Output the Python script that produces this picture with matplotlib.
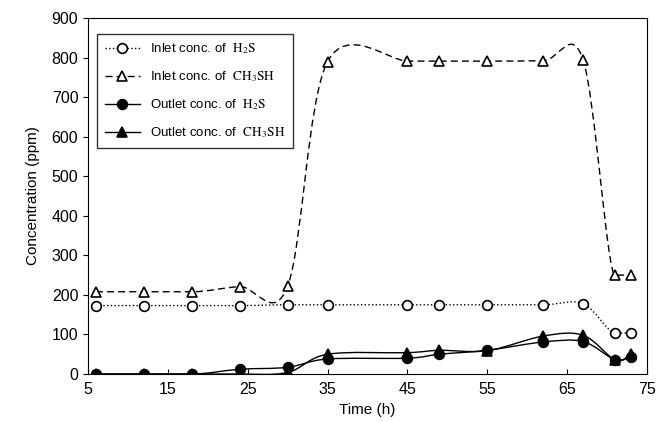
import matplotlib
matplotlib.use('Agg')
import matplotlib.pyplot as plt
from matplotlib.path import Path
from matplotlib.patches import PathPatch

plt.rcParams['font.family'] = ['Liberation Sans', 'DejaVu Sans']
plt.rcParams['mathtext.fontset'] = 'stix'

# sampling times (h)
time_h = [6, 12, 18, 24, 30, 35, 45, 49, 55, 62, 67, 71, 73]

# concentrations (ppm)
inlet_h2s = [173, 173, 173, 173, 175, 175, 175, 175, 175, 175, 178, 104, 104]
inlet_ch3sh = [208, 208, 208, 221, 222, 790, 791, 791, 791, 792, 794, 250, 250]
outlet_h2s = [0, 0, 0, 12, 17, 38, 40, 50, 60, 81, 82, 36, 44]
outlet_ch3sh = [0, 0, 0, 0, 4, 50, 54, 60, 59, 96, 98, 36, 50]

labels = [r'Inlet conc. of  $\mathrm{H_2S}$',
          r'Inlet conc. of  $\mathrm{CH_3SH}$',
          r'Outlet conc. of  $\mathrm{H_2S}$',
          r'Outlet conc. of  $\mathrm{CH_3SH}$']


def smooth_path(x, y):
    # smoothed line: cubic Bezier segments (Catmull-Rom),
    # tangent set flat next to a level run
    pts = list(zip(x, y))
    n = len(pts)
    tang = []
    for i in range(n):
        p0 = pts[max(i - 1, 0)]
        p2 = pts[min(i + 1, n - 1)]
        flat = (i > 0 and pts[i - 1][1] == pts[i][1]) or \
               (i < n - 1 and pts[i + 1][1] == pts[i][1])
        dy = 0 if flat else (p2[1] - p0[1]) / 6
        tang.append(((p2[0] - p0[0]) / 6, dy))
    verts = [pts[0]]
    codes = [Path.MOVETO]
    for i in range(n - 1):
        p1, p2 = pts[i], pts[i + 1]
        c1 = (p1[0] + tang[i][0], p1[1] + tang[i][1])
        c2 = (p2[0] - tang[i + 1][0], p2[1] - tang[i + 1][1])
        verts += [c1, c2, p2]
        codes += [Path.CURVE4] * 3
    return Path(verts, codes)


fig = plt.figure(figsize=(6.68, 4.22), dpi=100)
ax = fig.add_axes([0.1317, 0.1137, 0.8369, 0.8436])

styles = [
    (inlet_h2s, ':', 'o', 'white'),
    (inlet_ch3sh, (0, (5, 3)), '^', 'white'),
    (outlet_h2s, '-', 'o', 'black'),
    (outlet_ch3sh, '-', '^', 'black'),
]
handles = []
for (vals, ls, mk, fc), lab in zip(styles, labels):
    patch = PathPatch(smooth_path(time_h, vals), facecolor='none',
                      edgecolor='black', linestyle=ls, linewidth=1.0, zorder=2)
    ax.add_patch(patch)
    ax.plot(time_h, vals, linestyle='none', marker=mk, markersize=7,
            markerfacecolor=fc, markeredgecolor='black', markeredgewidth=1.2,
            zorder=3)
    h, = ax.plot([], [], color='black', linestyle=ls, linewidth=1.0,
                 marker=mk, markersize=7, markerfacecolor=fc,
                 markeredgecolor='black', markeredgewidth=1.2, label=lab)
    handles.append(h)

ax.set_xlim(5, 75)
ax.set_ylim(0, 900)
ax.set_xticks([5, 15, 25, 35, 45, 55, 65, 75])
ax.set_yticks(range(0, 901, 100))
ax.tick_params(axis='x', direction='in', labelsize=11.5, pad=6)
ax.tick_params(axis='y', direction='out', labelsize=11.5)
ax.set_xlabel('Time (h)', fontsize=11)
ax.set_ylabel('Concentration (ppm)', fontsize=11, labelpad=8)

leg = ax.legend(handles=handles, loc='upper left', fontsize=9.5,
                frameon=True, fancybox=False, edgecolor='black',
                handlelength=2.6, borderpad=0.6, labelspacing=1.0,
                bbox_to_anchor=(0.005, 0.975))
leg.get_frame().set_linewidth(1.0)

fig.savefig('out.png', dpi=100)
